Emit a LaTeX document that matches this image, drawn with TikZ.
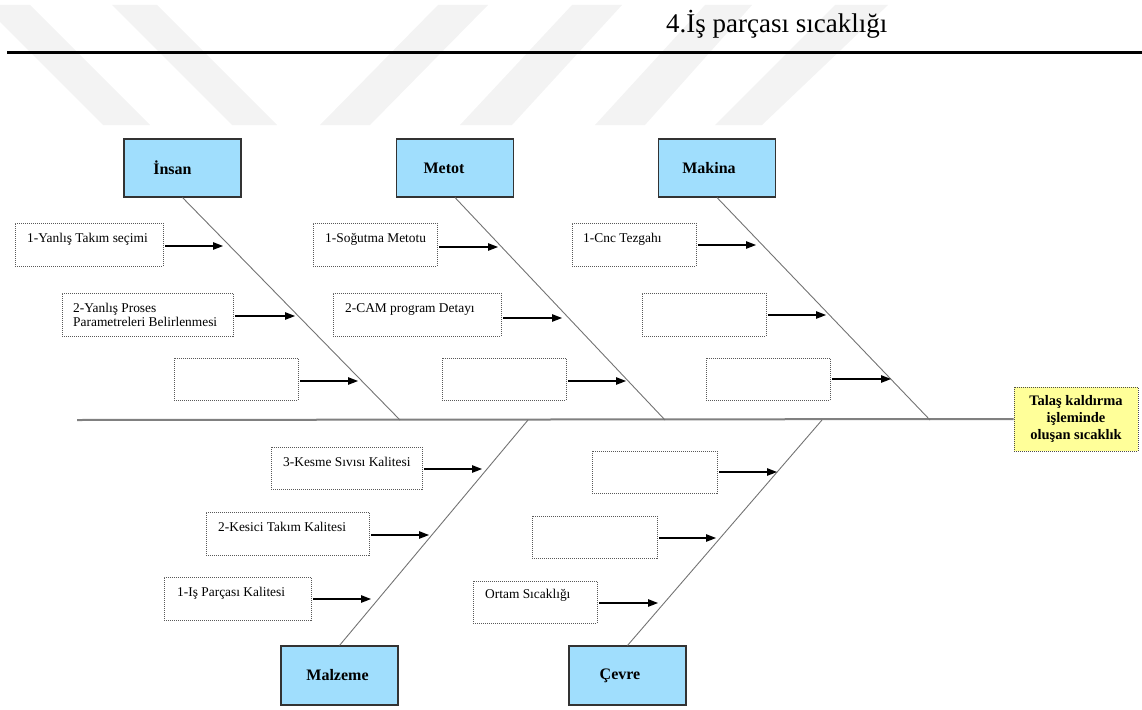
\documentclass[tikz,border=0pt]{standalone}
\usepackage{fontspec}
\setmainfont{Liberation Serif}
\usetikzlibrary{arrows.meta,calc}
\definecolor{catblue}{HTML}{A0DEFD}
\definecolor{effyellow}{HTML}{FFFF99}
\definecolor{wm}{HTML}{F3F3F3}
\tikzset{
  cat/.style={draw=black!80, line width=1.1pt, fill=catblue, minimum width=117pt, minimum height=58pt, inner sep=0pt, font=\fontsize{16}{19}\selectfont\bfseries},
  sub/.style={draw=black!65, dash pattern=on 1pt off 1pt, line width=0.8pt, inner sep=0pt, minimum height=43pt},
  txt/.style={anchor=base west, inner sep=0pt, font=\fontsize{13.4}{14}\selectfont},
  bone/.style={draw=black!55, line width=0.9pt},
  spine/.style={draw=black!50, line width=2pt},
  arr/.style={-{Triangle[length=10pt,width=7.5pt]}, line width=1.2pt},
  effect/.style={draw=black!70, dash pattern=on 1pt off 1pt, line width=0.8pt, fill=effyellow, minimum width=124pt, minimum height=64pt, inner sep=0pt, align=center, font=\fontsize{14.5}{17}\selectfont\bfseries},
  wmark/.style={fill=wm, draw=none}
}
\begin{document}
\begin{tikzpicture}[x=1pt,y=-1pt]
\useasboundingbox (0,0) rectangle (1142,709);
% watermark
\fill[wmark] (-17,5) -- (30,5) -- (150,125) -- (103,125) -- cycle;
\fill[wmark] (112,5) -- (157,5) -- (277,125) -- (232,125) -- cycle;
\fill[wmark] (438,5) -- (488,5) -- (370,125) -- (320,125) -- cycle;
\fill[wmark] (572,5) -- (622,5) -- (512,125) -- (460,125) -- cycle;
\fill[wmark] (705,5) -- (752,5) -- (645,125) -- (595,125) -- cycle;
\fill[wmark] (835,5) -- (888,5) -- (762,125) -- (715,125) -- cycle;
% header
\node[anchor=base west, inner sep=0pt, font=\fontsize{27}{30}\selectfont] (title) at (666,33) {4.İş parçası sıcaklığı};
\draw[line width=3pt] (7,53) -- (1142,53);
% category boxes
\node[cat] (insan) at (182.5,168) {İnsan\kern20pt};
\node[cat] (metot) at (455,168) {Metot\kern22pt};
\node[cat] (makina) at (717,168) {Makina\kern16pt};
\node[cat, minimum height=59pt] (malzeme) at (339.5,675.5) {Malzeme\kern4pt};
\node[cat, minimum height=59pt] (cevre) at (627.5,675.5) {Çevre\kern15pt};
% effect
\node[effect] (effect) at (1076,419) {Talaş kaldırma\\işleminde\\oluşan sıcaklık};
% spine and bones
\coordinate (sp) at (77,420);
\coordinate (bi) at (400,420);
\coordinate (bm) at (665,420);
\coordinate (bk) at (930,420);
\coordinate (bz) at (528,420);
\coordinate (bc) at (822,420);
\draw[spine] (sp) -- (effect.west);
\draw[bone] (insan.south) -- (bi);
\draw[bone] (metot.south) -- (bm);
\draw[bone] (makina.south) -- (bk);
\draw[bone] (malzeme.north) -- (bz);
\draw[bone] (cevre.north) -- (bc);
% sub boxes
\node[sub, minimum width=148pt] (i1) at (89,244.5) {};
\node[sub, minimum width=171pt] (i2) at (147.5,314.5) {};
\node[sub, minimum width=124pt, minimum height=42pt] (i3) at (236,379) {};
\node[sub, minimum width=124pt] (m1) at (375,244.5) {};
\node[sub, minimum width=168pt] (m2) at (417,314.5) {};
\node[sub, minimum width=124pt, minimum height=42pt] (m3) at (504,379) {};
\node[sub, minimum width=124pt] (k1) at (634,244.5) {};
\node[sub, minimum width=124pt] (k2) at (704,314.5) {};
\node[sub, minimum width=124pt, minimum height=42pt] (k3) at (768,379) {};
\node[sub, minimum width=151pt, minimum height=42pt] (z3) at (346.5,468) {};
\node[sub, minimum width=163pt] (z2) at (287.5,533.5) {};
\node[sub, minimum width=147pt] (z1) at (237.5,598.5) {};
\node[sub, minimum width=125pt, minimum height=42pt] (c1) at (654.5,472) {};
\node[sub, minimum width=125pt, minimum height=42pt] (c2) at (594.5,537) {};
\node[sub, minimum width=124pt, minimum height=42pt] (c3) at (535,602) {};
% texts
\node[txt] (ti1) at (27,242) {1-Yanlış Takım seçimi};
\node[txt] (ti2a) at (73,312.5) {2-Yanlış Proses};
\node[txt] (ti2b) at (73,326.5) {Parametreleri Belirlenmesi};
\node[txt] (tm1) at (325,242) {1-Soğutma Metotu};
\node[txt] (tm2) at (345,312.5) {2-CAM program Detayı};
\node[txt] (tk1) at (583,242) {1-Cnc Tezgahı};
\node[txt] (tz3) at (283,466.5) {3-Kesme Sıvısı Kalitesi};
\node[txt] (tz2) at (218,531.5) {2-Kesici Takım Kalitesi};
\node[txt] (tz1) at (177,596.5) {1-Iş Parçası Kalitesi};
\node[txt] (tc3) at (485,598.5) {Ortam Sıcaklığı};
% arrow ends
\coordinate (ei1) at (223,246);
\coordinate (ei2) at (295,316);
\coordinate (ei3) at (358,381);
\coordinate (em1) at (498,247);
\coordinate (em2) at (562,318);
\coordinate (em3) at (626,381);
\coordinate (ek1) at (756,245);
\coordinate (ek2) at (826,315);
\coordinate (ek3) at (891,379);
\coordinate (ez3) at (482,469);
\coordinate (ez2) at (429,535);
\coordinate (ez1) at (371,599);
\coordinate (ec1) at (777,472);
\coordinate (ec2) at (716,538);
\coordinate (ec3) at (658,603);
\foreach \b in {i1,i2,i3,m1,m2,m3,k1,k2,k3,z3,z2,z1,c1,c2,c3}{
  \draw[arr] ($(\b.east |- e\b)+(2,0)$) -- (e\b);
}
\end{tikzpicture}
\end{document}
